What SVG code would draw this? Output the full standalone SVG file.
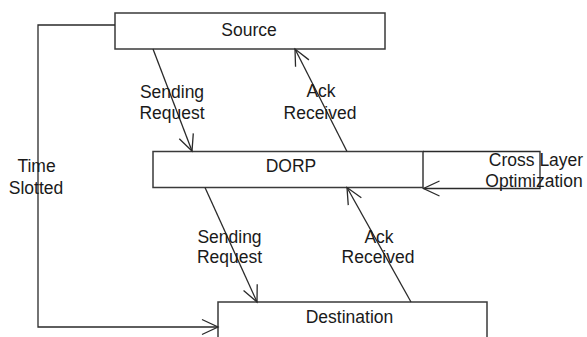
<svg xmlns="http://www.w3.org/2000/svg" width="587" height="337" viewBox="0 0 587 337">
<style>
  .box { fill: #ffffff; stroke: #3a3a3a; stroke-width: 1.5; }
  .edge { fill: none; stroke: #2a2a2a; stroke-width: 1.3; }
  .lbl { font-family: "Liberation Sans", Arial, sans-serif; font-size: 17.5px; fill: #1a1a1a; text-anchor: middle; }
</style>
<defs>
  <marker id="arr" markerUnits="userSpaceOnUse" markerWidth="24" markerHeight="24" viewBox="-20 -10 24 20" refX="0" refY="0" orient="auto">
    <path d="M-16,-7.5 L0,0 L-16,7.5" fill="none" stroke="#2a2a2a" stroke-width="1.3"/>
  </marker>
</defs>
<rect width="587" height="337" fill="#ffffff"/>
<g id="source">
  <rect class="box" x="115" y="13" width="270" height="36"/>
  <text class="lbl" x="249" y="35.5">Source</text>
</g>
<g id="dorp">
  <rect class="box" x="153" y="151.5" width="270" height="36"/>
  <text class="lbl" x="291" y="172">DORP</text>
</g>
<g id="destination">
  <rect class="box" x="218" y="302" width="269" height="50"/>
  <text class="lbl" x="349.5" y="323">Destination</text>
</g>
<g id="connectors">
  <line class="edge" x1="153" y1="49" x2="192" y2="151" marker-end="url(#arr)"/>
  <line class="edge" x1="347" y1="151.5" x2="295" y2="49" marker-end="url(#arr)"/>
  <line class="edge" x1="205" y1="187.5" x2="257" y2="302" marker-end="url(#arr)"/>
  <line class="edge" x1="411" y1="302" x2="347" y2="187.5" marker-end="url(#arr)"/>
  <path class="edge" d="M115,25 H38 V327 H218" marker-end="url(#arr)"/>
  <path class="edge" d="M423,151.5 H540 V188.5 H423.5" marker-end="url(#arr)"/>
  <text class="lbl" x="172" y="98">Sending</text>
  <text class="lbl" x="172" y="119">Request</text>
  <text class="lbl" x="321" y="97">Ack</text>
  <text class="lbl" x="320" y="119">Received</text>
  <text class="lbl" x="229.5" y="243">Sending</text>
  <text class="lbl" x="229.5" y="263">Request</text>
  <text class="lbl" x="379" y="243">Ack</text>
  <text class="lbl" x="378" y="263">Received</text>
  <text class="lbl" x="36.5" y="172">Time</text>
  <text class="lbl" x="36" y="194">Slotted</text>
  <text class="lbl" x="536" y="166">Cross Layer</text>
  <text class="lbl" x="534" y="187">Optimization</text>
</g>
</svg>
